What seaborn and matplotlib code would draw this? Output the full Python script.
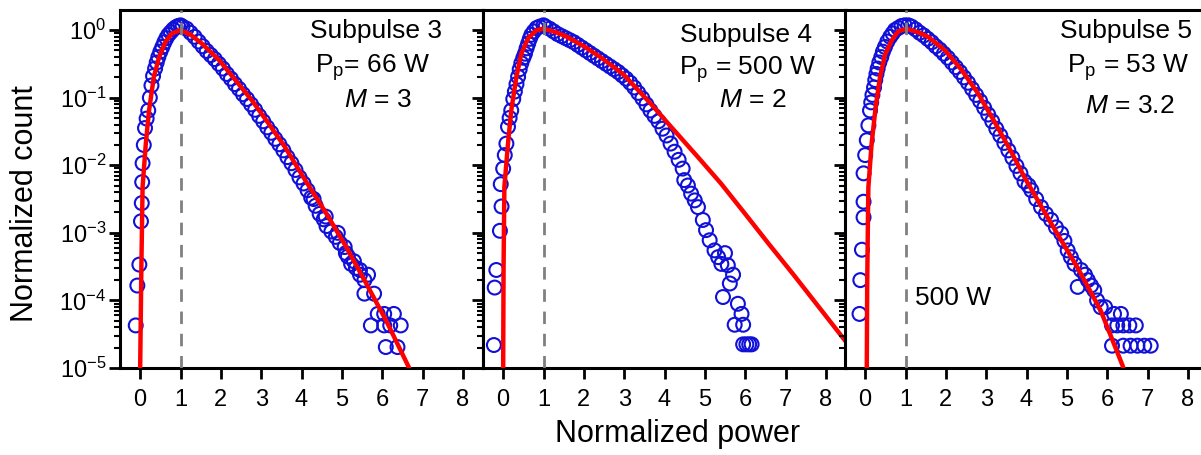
import numpy as np
import pandas as pd
import matplotlib
matplotlib.use("Agg")
import matplotlib.pyplot as plt
import seaborn as sns
from matplotlib.ticker import LogLocator, NullFormatter, FixedLocator

# values: x = normalized power, y = log10(normalized count)

# ---- Subpulse 3 (P_p = 66 W, M = 3)
s3_pts_x = [-0.11, -0.07, -0.02, 0.02, 0.04, 0.05, 0.06, 0.09, 0.12, 0.16, 0.20, 0.24, 0.28, 0.32,
            0.37, 0.41, 0.45, 0.50, 0.55, 0.60, 0.65, 0.70, 0.76, 0.82, 0.88, 0.94, 1.00,
            1.05, 1.15, 1.25, 1.35, 1.45, 1.55, 1.65, 1.75, 1.85, 1.95, 2.05, 2.15, 2.25, 2.35,
            2.45, 2.55, 2.65, 2.75, 2.85, 2.95, 3.05, 3.15, 3.25, 3.35, 3.45, 3.55, 3.65, 3.75,
            3.85, 3.95, 4.05, 4.15, 4.24, 4.30, 4.35, 4.45, 4.55, 4.60, 4.62, 4.74, 4.85, 4.90,
            4.95, 5.07, 5.10, 5.15, 5.23, 5.30, 5.35, 5.45, 5.45, 5.56, 5.56, 5.65, 5.80, 5.72,
            5.89, 6.05, 6.29, 6.05, 6.20, 6.46, 6.09, 6.38]
s3_pts_log = [-4.37, -3.78, -3.47, -2.83, -2.56, -2.25, -1.97, -1.70, -1.45, -1.31, -1.19, -1.00, -0.82, -0.68,
              -0.57, -0.48, -0.40, -0.32, -0.25, -0.18, -0.12, -0.07, -0.03, 0.01, 0.04, 0.06, 0.07,
              0.05, 0.02, -0.04, -0.10, -0.17, -0.24, -0.31, -0.37, -0.43, -0.50, -0.57, -0.65, -0.72, -0.80,
              -0.87, -0.95, -1.02, -1.10, -1.18, -1.27, -1.35, -1.44, -1.52, -1.61, -1.69, -1.78, -1.88, -1.97,
              -2.07, -2.18, -2.27, -2.37, -2.48, -2.50, -2.60, -2.72, -2.80, -2.76, -2.90, -2.98, -3.06, -3.00,
              -3.15, -3.21, -3.30, -3.35, -3.46, -3.42, -3.52, -3.62, -3.55, -3.70, -3.90, -3.62, -3.90, -4.37,
              -4.20, -4.20, -4.20, -4.37, -4.37, -4.37, -4.69, -4.69]
s3_fit_x = [0.00, 0.03, 0.06, 0.14, 0.22, 0.34, 0.47, 0.63, 0.79, 1.00, 1.25, 1.53, 1.95, 2.36,
            2.77, 3.18, 3.59, 4.07, 4.60, 5.10, 5.56, 6.10, 6.67, 6.80]
s3_fit_log = [-5.00, -3.50, -2.32, -1.68, -1.19, -0.69, -0.40, -0.17, -0.05, 0.00, -0.07, -0.20, -0.44, -0.74,
              -1.04, -1.38, -1.73, -2.20, -2.70, -3.20, -3.70, -4.30, -5.00, -5.15]

# ---- Subpulse 4 (P_p = 500 W, M = 2)
s4_pts_x = [-0.23, -0.21, -0.17, -0.08, -0.04, -0.06, 0.00, 0.04, 0.08, 0.12, 0.16, 0.20, 0.25, 0.29,
            0.33, 0.37, 0.41, 0.45, 0.50, 0.54, 0.58, 0.62, 0.66, 0.70, 0.76, 0.83, 0.90, 1.00,
            1.05, 1.15, 1.25, 1.35, 1.45, 1.55, 1.65, 1.75, 1.85, 1.95, 2.05, 2.15, 2.25, 2.35,
            2.45, 2.55, 2.65, 2.75, 2.85, 2.95, 3.05, 3.15, 3.25, 3.35, 3.45, 3.55, 3.65, 3.75,
            3.85, 3.95, 4.05, 4.15, 4.25, 4.35, 4.45, 4.49, 4.58, 4.66, 4.75, 4.83, 4.95, 5.03,
            5.12, 5.24, 5.33, 5.41, 5.57, 5.62, 5.45, 5.82, 5.91, 5.74, 5.95, 5.95, 6.03, 6.10,
            6.16, 5.70, 5.50]
s4_pts_log = [-4.66, -3.81, -3.55, -2.97, -2.61, -2.28, -2.05, -1.85, -1.68, -1.43, -1.30, -1.19, -1.02, -0.91,
              -0.80, -0.69, -0.58, -0.49, -0.41, -0.35, -0.27, -0.20, -0.13, -0.07, -0.02, 0.03, 0.05, 0.07,
              0.05, 0.02, -0.02, -0.06, -0.09, -0.12, -0.15, -0.18, -0.22, -0.26, -0.30, -0.34, -0.38, -0.42,
              -0.46, -0.50, -0.54, -0.58, -0.62, -0.67, -0.72, -0.78, -0.85, -0.93, -1.01, -1.10, -1.19, -1.27,
              -1.35, -1.46, -1.56, -1.68, -1.80, -1.92, -2.05, -2.22, -2.30, -2.42, -2.52, -2.62, -2.81, -2.96,
              -3.11, -3.26, -3.36, -3.46, -3.48, -3.75, -3.95, -4.05, -4.20, -4.36, -4.36, -4.65, -4.65, -4.65,
              -4.65, -3.62, -3.30]
s4_fit_x = [0.00, 0.01, 0.03, 0.12, 0.20, 0.33, 0.45, 0.62, 0.83, 1.00, 1.30, 1.58, 2.00, 2.41,
            2.99, 3.66, 4.16, 4.83, 5.40, 6.00, 6.58, 7.20, 7.83, 8.55]
s4_fit_log = [-5.00, -3.50, -2.32, -1.68, -1.19, -0.69, -0.35, -0.12, 0.00, 0.02, -0.03, -0.10, -0.24, -0.40,
              -0.66, -1.09, -1.43, -1.88, -2.27, -2.72, -3.16, -3.62, -4.10, -4.65]

# ---- Subpulse 5 (P_p = 53 W, M = 3.2)
s5_pts_x = [-0.14, -0.12, -0.08, -0.04, -0.04, -0.04, 0.00, 0.04, 0.08, 0.12, 0.15, 0.18, 0.22, 0.25,
            0.28, 0.31, 0.35, 0.40, 0.44, 0.49, 0.55, 0.62, 0.68, 0.74, 0.82, 0.90, 0.98, 1.07,
            1.15, 1.25, 1.35, 1.45, 1.55, 1.65, 1.75, 1.85, 1.95, 2.05, 2.15, 2.25, 2.35, 2.45,
            2.55, 2.65, 2.75, 2.85, 2.95, 3.05, 3.15, 3.25, 3.35, 3.45, 3.55, 3.65, 3.75, 3.85,
            3.95, 4.05, 4.12, 4.24, 4.36, 4.48, 4.61, 4.73, 4.86, 4.94, 5.02, 5.10, 5.19, 5.27,
            5.35, 5.45, 5.52, 5.60, 5.68, 5.75, 5.84, 5.95, 6.17, 6.34, 6.12, 6.25, 6.40, 6.55,
            6.71, 6.12, 6.40, 6.58, 6.75, 6.92, 7.08]
s5_pts_log = [-4.20, -3.70, -3.25, -2.77, -2.54, -2.12, -1.85, -1.63, -1.41, -1.19, -1.07, -0.96, -0.85, -0.74,
              -0.65, -0.57, -0.48, -0.40, -0.32, -0.25, -0.17, -0.10, -0.05, 0.00, 0.03, 0.06, 0.07, 0.07,
              0.05, 0.01, -0.04, -0.08, -0.13, -0.18, -0.24, -0.29, -0.35, -0.41, -0.48, -0.55, -0.62, -0.70,
              -0.78, -0.87, -0.96, -1.05, -1.15, -1.25, -1.35, -1.46, -1.56, -1.67, -1.78, -1.89, -2.01, -2.12,
              -2.24, -2.30, -2.37, -2.50, -2.62, -2.72, -2.81, -2.92, -3.01, -3.12, -3.26, -3.36, -3.46, -3.80,
              -3.55, -3.62, -3.70, -3.78, -3.85, -4.00, -4.10, -4.10, -4.20, -4.20, -4.37, -4.37, -4.37, -4.37,
              -4.37, -4.67, -4.67, -4.67, -4.67, -4.67, -4.67]
s5_fit_x = [0.04, 0.05, 0.07, 0.08, 0.16, 0.26, 0.37, 0.49, 0.66, 0.82, 1.03, 1.30, 1.56, 1.98,
            2.39, 2.80, 3.21, 3.62, 3.95, 4.61, 5.27, 5.84, 6.38, 6.50]
s5_fit_log = [-5.00, -3.80, -2.72, -2.32, -1.68, -1.14, -0.69, -0.37, -0.15, -0.02, 0.02, -0.03, -0.10, -0.30,
              -0.59, -0.94, -1.36, -1.80, -2.18, -2.86, -3.52, -4.15, -4.96, -5.20]

titles = ["Subpulse 3", "Subpulse 4", "Subpulse 5"]
peak_power = [r"P$_\mathregular{p}$= 66 W", r"P$_\mathregular{p}$ = 500 W", r"P$_\mathregular{p}$ = 53 W"]
modes = [r"$\mathit{M}$ = 3", r"$\mathit{M}$ = 2", r"$\mathit{M}$ = 3.2"]
x_ticks = [0, 1, 2, 3, 4, 5, 6, 7, 8]

BLUE = "#1010d8"
W, H = 1201, 455

sns.set_style("ticks")
plt.rcParams['font.family'] = ['Liberation Sans', 'DejaVu Sans']
plt.rcParams['mathtext.fontset'] = 'custom'
plt.rcParams['mathtext.rm'] = 'Liberation Sans'
plt.rcParams['mathtext.it'] = 'Liberation Sans:italic'
plt.rcParams['mathtext.default'] = 'regular'
for key in ['text.color', 'axes.labelcolor', 'xtick.color', 'ytick.color', 'axes.edgecolor']:
    plt.rcParams[key] = 'black'

fig = plt.figure(figsize=(W / 100, H / 100), dpi=100)

panels = [(s3_pts_x, s3_pts_log, s3_fit_x, s3_fit_log),
          (s4_pts_x, s4_pts_log, s4_fit_x, s4_fit_log),
          (s5_pts_x, s5_pts_log, s5_fit_x, s5_fit_log)]
lefts = [120, 483, 845]
# text positions in pixels (x centre, baseline)
txt_pos = [[(376, 38), (373, 73), (378, 107)],
           [(746, 42), (748, 75), (753, 107)],
           [(1126, 38), (1128, 73), (1130, 113)]]

for i, (px, plog, fx, flog) in enumerate(panels):
    ax = fig.add_axes([lefts[i] / W, 1 - 368 / H, 363 / W, 358 / H])
    ax.set_yscale('log')
    pts = pd.DataFrame({'power': px, 'count': np.power(10.0, plog)})
    fit = pd.DataFrame({'power': fx, 'count': np.power(10.0, flog)})
    sns.scatterplot(data=pts, x='power', y='count', ax=ax, marker='o', s=100,
                    facecolors='none', edgecolor=BLUE, linewidth=1.5, zorder=2)
    sns.lineplot(data=fit, x='power', y='count', ax=ax, color='#ff0000', lw=3.2,
                 sort=False, estimator=None, zorder=3)
    ax.axvline(1, color='#808080', lw=2.0, ls=(0, (4.5, 3.5)), zorder=4)

    ax.set_xlim(-0.5, 8.5)
    ax.set_ylim(1e-5, 1.98)
    ax.xaxis.set_major_locator(FixedLocator(x_ticks))
    ax.yaxis.set_major_locator(LogLocator(base=10, numticks=10))
    ax.yaxis.set_minor_locator(LogLocator(base=10, subs=np.arange(2, 10), numticks=10))
    ax.yaxis.set_minor_formatter(NullFormatter())
    ax.set_xlabel('')
    ax.set_ylabel('')
    for sp in ax.spines.values():
        sp.set_linewidth(2.2)
        sp.set_color('black')
    ax.tick_params(axis='both', which='major', direction='out', length=8, width=2,
                   labelsize=17, color='black', labelcolor='black')
    ax.tick_params(axis='x', pad=7)
    ax.tick_params(axis='y', pad=2)
    ax.tick_params(axis='y', which='minor', direction='out', length=4.5, width=1.5, color='black')
    if i > 0:
        ax.tick_params(axis='y', labelleft=False)

    for (tx, ty), s in zip(txt_pos[i], [titles[i], peak_power[i], modes[i]]):
        fig.text(tx / W, 1 - ty / H, s, ha='center', va='baseline', fontsize=19)

fig.text(915 / W, 1 - 305 / H, "500 W", ha='left', va='baseline', fontsize=19)
fig.text(678 / W, 1 - 434 / H, "Normalized power", ha='center', va='center', fontsize=22)
fig.text(25 / W, 1 - 204 / H, "Normalized count", ha='center', va='center',
         rotation=90, fontsize=22)

fig.savefig("out.png", dpi=100)
